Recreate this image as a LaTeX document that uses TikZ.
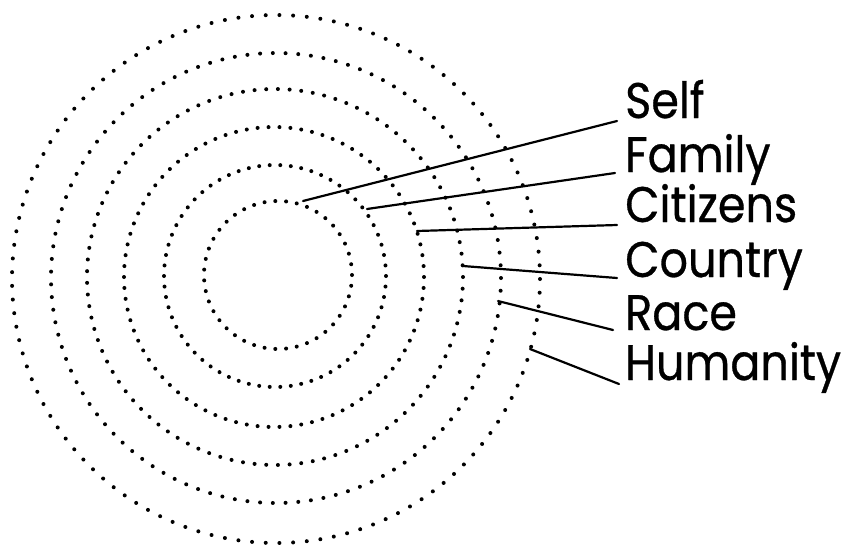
\documentclass[tikz,border=0pt]{standalone}
\usepackage{fontspec}
\setmainfont{Poppins}[FakeStretch=0.89,FakeBold=0.6]
\begin{document}
\begin{tikzpicture}[x=1pt,y=-1pt,
  lbl/.style={anchor=base west, inner sep=0pt, font=\fontsize{50}{50}\selectfont},
  con/.style={line width=2.2pt, line cap=round}]
\useasboundingbox (0,0) rectangle (843,547);
% dotted concentric circles
\foreach \cx/\cy/\rr/\nn in {278/275/74/43, 275/276/111/66, 274/277/150/86, 275/277/188/101, 276/278/225/111, 276/279/264/121}{
  \pgfmathsetmacro{\stp}{360/\nn}
  \foreach \k in {1,...,\nn}{
    \fill ({\cx+\rr*cos(\stp*\k)},{\cy+\rr*sin(\stp*\k)}) circle (2pt);
  }
}
% labels
\node[lbl] (lself) at (625,118) {Self};
\node[lbl] (lfam) at (625,172) {Family};
\node[lbl] (lcit) at (625,222) {Citizens};
\node[lbl] (lcou) at (625,277) {Country};
\node[lbl] (lrac) at (625,330) {Race};
\node[lbl] (lhum) at (625,380) {Humanity};
% connector start points on the circles
\coordinate (sself) at (303,201);
\coordinate (sfam) at (367,209);
\coordinate (scit) at (417,231);
\coordinate (scou) at (463,266);
\coordinate (srac) at (498,301);
\coordinate (shum) at (530,349);
% connector end points beside the labels
\coordinate (eself) at (617,121);
\coordinate (efam) at (615,173);
\coordinate (ecit) at (617,225);
\coordinate (ecou) at (617,278);
\coordinate (erac) at (613,330);
\coordinate (ehum) at (619,384);
\draw[con] (sself) -- (eself);
\draw[con] (sfam) -- (efam);
\draw[con] (scit) -- (ecit);
\draw[con] (scou) -- (ecou);
\draw[con] (srac) -- (erac);
\draw[con] (shum) -- (ehum);
\end{tikzpicture}
\end{document}
